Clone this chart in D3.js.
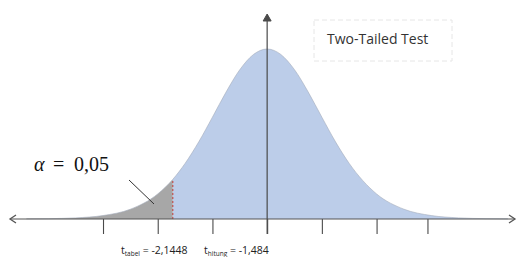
<!DOCTYPE html>
<html>
<head>
<meta charset="utf-8">
<script src="https://cdn.jsdelivr.net/npm/d3@7"></script>
<style>
  html, body { margin: 0; padding: 0; background: #fff; }
  svg { display: block; }
</style>
</head>
<body>
<div id="chart"></div>
<script>
'use strict';

// t values and density heights
const tValues = [-4.4, -4, -3.5, -3, -2.5, -2, -1.725, -1.5, -1.25, -1, -0.75, -0.5, -0.25, 0,
  0.25, 0.5, 0.75, 1, 1.25, 1.5, 2, 2.5, 3, 3.5, 4, 4.4];
const density = [0.0003, 0.0008, 0.0026, 0.0080, 0.0227, 0.0581, 0.0918, 0.1288, 0.1788, 0.236, 0.2944, 0.346, 0.3813, 0.394,
  0.3813, 0.346, 0.2944, 0.236, 0.1788, 0.1288, 0.0581, 0.0227, 0.0080, 0.0026, 0.0008, 0.0003];
const tickValues = [-3, -2, -1, 0, 1, 2, 2.93];
const tCritical = -1.725;
const alphaLabel = ['\u03b1', '=', '0,05'];
const tTabelLabel = ['t', 'tabel', ' = -2,1448'];
const tHitungLabel = ['t', 'hitung', ' = -1,484'];
const title = 'Two-Tailed Test';

const width = 519;
const height = 257;
const axisY = 219;

const svg = d3.select('#chart')
  .append('svg')
  .attr('width', width)
  .attr('height', height);

const x = d3.scaleLinear().domain([-4.7, 4.53]).range([10, 515]);
const y = d3.scaleLinear().domain([0, 0.394]).range([axisY, 49]);

const points = tValues.map((t, i) => ({t: t, d: density[i]}));
const cut = tValues.indexOf(tCritical);
const leftTail = points.slice(0, cut + 1);
const body = points.slice(cut);

const area = d3.area()
  .x(d => x(d.t))
  .y0(axisY)
  .y1(d => y(d.d))
  .curve(d3.curveMonotoneX);

const line = d3.line()
  .x(d => x(d.t))
  .y(d => y(d.d))
  .curve(d3.curveMonotoneX);

svg.append('path').attr('d', area(body)).attr('fill', '#bccde9');
svg.append('path').attr('d', area(leftTail)).attr('fill', '#a7a7a7');
svg.append('path').attr('d', line(points))
  .attr('fill', 'none')
  .attr('stroke', '#a3abba')
  .attr('stroke-width', 0.6);

// critical value marker
svg.append('line')
  .attr('x1', x(tCritical)).attr('x2', x(tCritical))
  .attr('y1', axisY).attr('y2', y(density[cut]))
  .attr('stroke', '#c0504d')
  .attr('stroke-width', 1.2)
  .attr('stroke-dasharray', '2,2');

// horizontal axis with ticks
const axis = d3.axisBottom(x)
  .tickValues(tickValues)
  .tickSize(15)
  .tickFormat('');
const gAxis = svg.append('g')
  .attr('transform', 'translate(0,' + axisY + ')')
  .call(axis);
gAxis.select('.domain').remove();
gAxis.selectAll('.tick line').attr('stroke', '#4a4a4a').attr('stroke-width', 1.1);

const axisColor = '#555';
svg.append('line')
  .attr('x1', x.range()[0]).attr('x2', x.range()[1])
  .attr('y1', axisY).attr('y2', axisY)
  .attr('stroke', axisColor).attr('stroke-width', 1.1);
svg.append('line')
  .attr('x1', x(0)).attr('x2', x(0))
  .attr('y1', 15).attr('y2', axisY + 15)
  .attr('stroke', '#4a4a4a').attr('stroke-width', 1.2);

// arrow heads
const x0 = x.range()[0];
const x1 = x.range()[1];
svg.append('path')
  .attr('d', 'M' + (x0 + 6) + ',' + (axisY - 4) + 'L' + x0 + ',' + axisY + 'L' + (x0 + 6) + ',' + (axisY + 4))
  .attr('fill', 'none').attr('stroke', axisColor).attr('stroke-width', 1.3);
svg.append('path')
  .attr('d', 'M' + (x1 - 6) + ',' + (axisY - 4) + 'L' + x1 + ',' + axisY + 'L' + (x1 - 6) + ',' + (axisY + 4))
  .attr('fill', 'none').attr('stroke', axisColor).attr('stroke-width', 1.3);
svg.append('path')
  .attr('d', 'M' + (x(0) - 4) + ',21L' + x(0) + ',14L' + (x(0) + 4) + ',21Z')
  .attr('fill', '#4a4a4a').attr('stroke', '#4a4a4a').attr('stroke-width', 1);

// alpha label and its pointer
const alpha = svg.append('text')
  .attr('y', 171)
  .attr('font-family', 'Liberation Serif, DejaVu Serif, serif')
  .attr('font-size', 20)
  .attr('fill', '#111');
alpha.append('tspan').attr('x', 34).attr('font-style', 'italic').text(alphaLabel[0]);
alpha.append('tspan').attr('x', 53).text(alphaLabel[1]);
alpha.append('tspan').attr('x', 74).text(alphaLabel[2]);

svg.append('line')
  .attr('x1', 129).attr('y1', 180)
  .attr('x2', 154).attr('y2', 204)
  .attr('stroke', '#333').attr('stroke-width', 1);

// t labels under the axis
function tLabel(parts, xPos) {
  const t = svg.append('text')
    .attr('x', xPos)
    .attr('y', 254)
    .attr('font-family', 'Open Sans, sans-serif')
    .attr('font-size', 10.5)
    .attr('fill', '#222');
  t.append('tspan').text(parts[0]);
  t.append('tspan').attr('font-size', 6.5).attr('dy', 1.5).text(parts[1]);
  t.append('tspan').attr('dy', -1.5).text(parts[2]);
}
tLabel(tTabelLabel, 121);
tLabel(tHitungLabel, 204);

// title box
svg.append('rect')
  .attr('x', 314).attr('y', 20)
  .attr('width', 138).attr('height', 41)
  .attr('fill', 'none')
  .attr('stroke', '#e6e6e6')
  .attr('stroke-width', 1)
  .attr('stroke-dasharray', '5,3');
svg.append('text')
  .attr('x', 327).attr('y', 44)
  .attr('font-family', 'Open Sans, sans-serif')
  .attr('font-size', 14)
  .attr('fill', '#333')
  .text(title);
</script>
</body>
</html>
